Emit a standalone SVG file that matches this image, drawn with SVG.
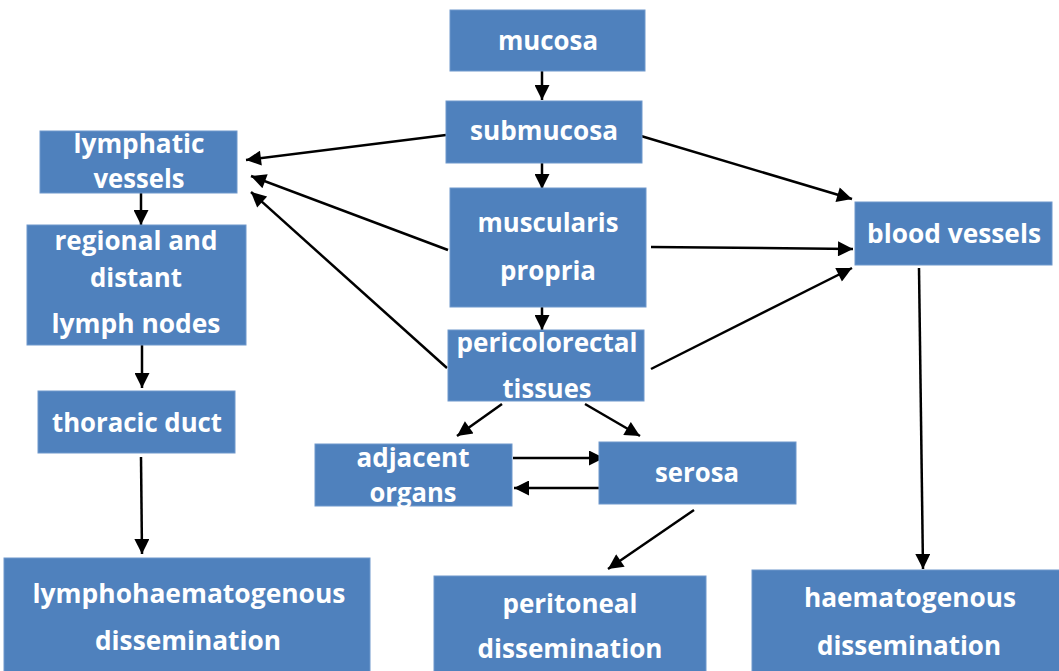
<svg xmlns="http://www.w3.org/2000/svg" width="1059" height="671" viewBox="0 0 1059 671">
<defs>
<marker id="ah" viewBox="0 0 10 10" refX="10" refY="5" markerWidth="7" markerHeight="6" markerUnits="strokeWidth" orient="auto">
<path d="M0,0 L10,5 L0,10 Z" fill="#000"/>
</marker>
<style>
.box{fill:#4F81BD;stroke:#6F98CC;stroke-width:1}
.t{font-family:"Open Sans","Liberation Sans",sans-serif;font-weight:bold;font-size:27px;fill:#fff;text-anchor:middle}
.c{stroke:#000;stroke-width:2.5;fill:none;marker-end:url(#ah)}
</style>
</defs>
<rect width="1059" height="671" fill="#fff"/>
<g id="connectors">
<line class="c" x1="542" y1="71" x2="542" y2="100"/>
<line class="c" x1="542" y1="163" x2="542" y2="189"/>
<line class="c" x1="542" y1="307" x2="542" y2="330"/>
<line class="c" x1="446" y1="135" x2="246" y2="160"/>
<line class="c" x1="448" y1="250" x2="251" y2="176"/>
<line class="c" x1="447" y1="368" x2="251" y2="192"/>
<line class="c" x1="641" y1="136" x2="852" y2="199"/>
<line class="c" x1="651" y1="247" x2="853" y2="249"/>
<line class="c" x1="651" y1="369" x2="852" y2="268"/>
<line class="c" x1="141" y1="193" x2="141" y2="225"/>
<line class="c" x1="142" y1="345" x2="142" y2="388"/>
<line class="c" x1="141" y1="457" x2="142" y2="554"/>
<line class="c" x1="502" y1="404" x2="457" y2="436"/>
<line class="c" x1="585" y1="404" x2="640" y2="436"/>
<line class="c" x1="513" y1="458" x2="604" y2="458"/>
<line class="c" x1="604" y1="488" x2="514" y2="488"/>
<line class="c" x1="694" y1="510" x2="608" y2="569"/>
<line class="c" x1="919" y1="268" x2="923" y2="569"/>
</g>
<g id="mucosa"><rect class="box" x="450" y="10" width="195" height="61"/><text class="t" x="548" y="50" textLength="100" lengthAdjust="spacingAndGlyphs">mucosa</text></g>
<g id="submucosa"><rect class="box" x="446" y="101" width="196" height="62"/><text class="t" x="544" y="140" textLength="148" lengthAdjust="spacingAndGlyphs">submucosa</text></g>
<g id="muscularis"><rect class="box" x="450" y="188" width="196" height="119"/><text class="t" x="548" y="232" textLength="141" lengthAdjust="spacingAndGlyphs">muscularis</text><text class="t" x="548" y="280" textLength="96" lengthAdjust="spacingAndGlyphs">propria</text></g>
<g id="pericolorectal"><rect class="box" x="448" y="330" width="196" height="71"/><text class="t" x="547" y="352" textLength="181" lengthAdjust="spacingAndGlyphs">pericolorectal</text><text class="t" x="547" y="398" textLength="89" lengthAdjust="spacingAndGlyphs">tissues</text></g>
<g id="lymphatic"><rect class="box" x="40" y="131" width="197" height="62"/><text class="t" x="139" y="153" textLength="131" lengthAdjust="spacingAndGlyphs">lymphatic</text><text class="t" x="139" y="188" textLength="91" lengthAdjust="spacingAndGlyphs">vessels</text></g>
<g id="nodes"><rect class="box" x="27" y="225" width="219" height="120"/><text class="t" x="136" y="250" textLength="163" lengthAdjust="spacingAndGlyphs">regional and</text><text class="t" x="136" y="287" textLength="92" lengthAdjust="spacingAndGlyphs">distant</text><text class="t" x="136" y="333" textLength="169" lengthAdjust="spacingAndGlyphs">lymph nodes</text></g>
<g id="thoracic"><rect class="box" x="38" y="391" width="197" height="62"/><text class="t" x="137" y="432" textLength="170" lengthAdjust="spacingAndGlyphs">thoracic duct</text></g>
<g id="lymphohaem"><rect class="box" x="4" y="558" width="366" height="120"/><text class="t" x="189" y="603" textLength="313" lengthAdjust="spacingAndGlyphs">lymphohaematogenous</text><text class="t" x="188" y="650" textLength="186" lengthAdjust="spacingAndGlyphs">dissemination</text></g>
<g id="adjacent"><rect class="box" x="315" y="444" width="197" height="62"/><text class="t" x="413" y="467" textLength="113" lengthAdjust="spacingAndGlyphs">adjacent</text><text class="t" x="413" y="502" textLength="87" lengthAdjust="spacingAndGlyphs">organs</text></g>
<g id="serosa"><rect class="box" x="599" y="442" width="197" height="62"/><text class="t" x="697" y="482" textLength="84" lengthAdjust="spacingAndGlyphs">serosa</text></g>
<g id="blood"><rect class="box" x="855" y="202" width="197" height="63"/><text class="t" x="954" y="243" textLength="174" lengthAdjust="spacingAndGlyphs">blood vessels</text></g>
<g id="peritoneal"><rect class="box" x="434" y="576" width="272" height="100"/><text class="t" x="570" y="613" textLength="135" lengthAdjust="spacingAndGlyphs">peritoneal</text><text class="t" x="570" y="658" textLength="185" lengthAdjust="spacingAndGlyphs">dissemination</text></g>
<g id="haematogenous"><rect class="box" x="752" y="570" width="312" height="106"/><text class="t" x="910" y="607" textLength="212" lengthAdjust="spacingAndGlyphs">haematogenous</text><text class="t" x="909" y="655" textLength="184" lengthAdjust="spacingAndGlyphs">dissemination</text></g>
</svg>
